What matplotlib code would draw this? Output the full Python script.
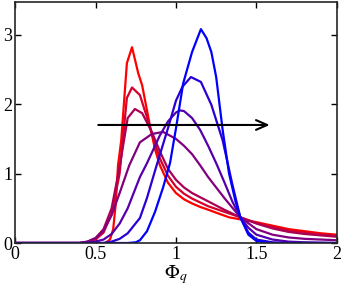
import numpy as np
import matplotlib
matplotlib.use('Agg')
import matplotlib.pyplot as plt

plt.rcParams['font.family'] = ['Liberation Serif', 'DejaVu Serif']
plt.rcParams['mathtext.fontset'] = 'stix'

# curves, red (first) to blue (last)
x1 = [0, 0.56, 0.59, 0.61, 0.625, 0.64, 0.66, 0.695, 0.727, 0.765, 0.79, 0.84, 0.87, 0.9, 0.95, 1.0, 1.05, 1.1, 1.15, 1.2, 1.27, 1.33, 1.4, 1.5, 1.6, 1.7, 1.8, 1.9, 2.0]
y1 = [0, 0, 0.05, 0.2, 0.55, 1.12, 1.48, 2.59, 2.82, 2.45, 2.27, 1.67, 1.35, 1.12, 0.87, 0.72, 0.63, 0.57, 0.52, 0.48, 0.42, 0.37, 0.34, 0.3, 0.25, 0.2, 0.17, 0.14, 0.12]

x2 = [0, 0.4, 0.45, 0.5, 0.55, 0.6, 0.65, 0.695, 0.727, 0.776, 0.82, 0.86, 0.9, 0.95, 1.0, 1.05, 1.1, 1.2, 1.3, 1.4, 1.5, 1.6, 1.7, 1.8, 1.9, 2.0]
y2 = [0, 0, 0.01, 0.05, 0.15, 0.42, 1.0, 2.09, 2.24, 2.13, 1.81, 1.5, 1.22, 0.97, 0.81, 0.71, 0.64, 0.53, 0.45, 0.37, 0.29, 0.23, 0.18, 0.15, 0.12, 0.105]

x3 = [0, 0.4, 0.45, 0.5, 0.55, 0.6, 0.65, 0.7, 0.745, 0.79, 0.85, 0.9, 0.95, 1.0, 1.05, 1.1, 1.2, 1.3, 1.4, 1.5, 1.6, 1.7, 1.8, 1.9, 2.0]
y3 = [0, 0, 0.02, 0.07, 0.2, 0.5, 1.1, 1.8, 1.93, 1.87, 1.6, 1.32, 1.07, 0.91, 0.8, 0.72, 0.6, 0.48, 0.37, 0.28, 0.21, 0.16, 0.13, 0.11, 0.09]

x4 = [0, 0.4, 0.45, 0.5, 0.55, 0.6, 0.65, 0.71, 0.776, 0.85, 0.92, 1.0, 1.05, 1.1, 1.15, 1.2, 1.3, 1.4, 1.5, 1.6, 1.7, 1.8, 1.9, 2.0]
y4 = [0, 0, 0.02, 0.07, 0.18, 0.4, 0.72, 1.12, 1.45, 1.57, 1.6, 1.5, 1.4, 1.28, 1.12, 0.95, 0.65, 0.37, 0.2, 0.12, 0.08, 0.06, 0.05, 0.04]

x5 = [0, 0.45, 0.5, 0.55, 0.6, 0.65, 0.7, 0.776, 0.82, 0.9, 0.95, 1.0, 1.025, 1.05, 1.1, 1.15, 1.2, 1.25, 1.3, 1.35, 1.4, 1.45, 1.5, 1.6, 1.7, 1.8, 2.0]
y5 = [0, 0, 0.02, 0.05, 0.13, 0.28, 0.5, 0.95, 1.15, 1.55, 1.75, 1.88, 1.91, 1.9, 1.8, 1.63, 1.4, 1.15, 0.88, 0.6, 0.37, 0.22, 0.12, 0.05, 0.02, 0.01, 0]

x6 = [0, 0.55, 0.6, 0.65, 0.7, 0.776, 0.82, 0.88, 0.95, 1.0, 1.04, 1.093, 1.155, 1.22, 1.29, 1.35, 1.4, 1.45, 1.5, 1.6, 1.7, 2.0]
y6 = [0, 0, 0.02, 0.06, 0.14, 0.36, 0.65, 1.12, 1.65, 2.05, 2.25, 2.39, 2.32, 1.99, 1.48, 0.85, 0.37, 0.15, 0.05, 0.01, 0, 0]

x7 = [0, 0.7, 0.75, 0.776, 0.82, 0.87, 0.92, 0.963, 1.0, 1.045, 1.1, 1.155, 1.19, 1.22, 1.25, 1.29, 1.33, 1.37, 1.4, 1.45, 1.5, 1.55, 1.6, 2.0]
y7 = [0, 0, 0.01, 0.04, 0.17, 0.45, 0.8, 1.15, 1.65, 2.3, 2.75, 3.08, 2.95, 2.75, 2.39, 1.63, 1.0, 0.6, 0.37, 0.12, 0.03, 0.01, 0, 0]

xs = [x1, x2, x3, x4, x5, x6, x7]
ys = [y1, y2, y3, y4, y5, y6, y7]

# arrow
arrow_start = (0.5, 1.7)
arrow_end = (1.6, 1.7)

fig = plt.figure(figsize=(3.42, 2.96), dpi=100)
ax = fig.add_axes([0.044, 0.179, 0.941, 0.814])

n = len(xs)
for i in range(n):
    t = i / (n - 1)
    ax.plot(xs[i], ys[i], color=(1 - t, 0, t), lw=1.6)

ax.annotate('', xy=arrow_end, xytext=arrow_start,
            arrowprops=dict(arrowstyle='->,head_length=0.8,head_width=0.35', color='k', lw=1.5))

ax.set_xlim(0, 2)
ax.set_ylim(0, 3.47)
ax.set_xticks([0, 0.5, 1, 1.5, 2])
ax.set_xticklabels(['0', '0.5', '1', '1.5', '2'])
ax.set_yticks([0, 1, 2, 3])
ax.tick_params(direction='in', top=True, right=True, length=4, width=1, labelsize=13, pad=2)
for s in ax.spines.values():
    s.set_linewidth(1.2)
    s.set_color('#262626')
ax.set_xlabel(r'$\Phi_q$', fontsize=14, labelpad=0)

fig.savefig('out.png', dpi=100)
